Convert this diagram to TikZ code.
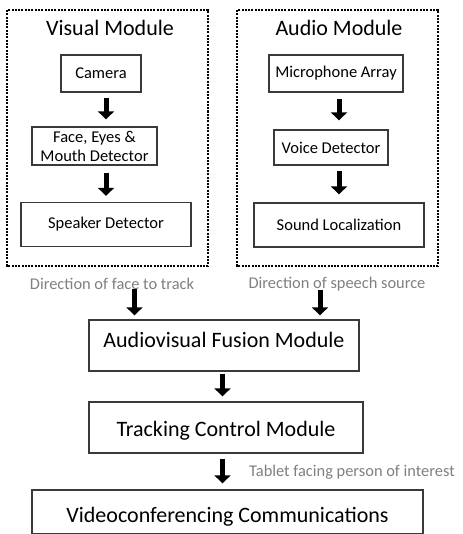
\documentclass[tikz,border=0pt]{standalone}
\usepackage{fontspec}
\setmainfont{Carlito}
\usetikzlibrary{arrows.meta}
\definecolor{edge}{HTML}{3A3A3A}
\definecolor{note}{HTML}{808080}
\begin{document}
\begin{tikzpicture}[x=1pt,y=-1pt,
  box/.style={draw=edge,line width=1.3pt,inner sep=0pt,align=center,
    font=\fontsize{16.5}{19}\selectfont},
  bigbox/.style={box,font=\fontsize{22}{26}\selectfont},
  title/.style={inner sep=0pt,font=\fontsize{22}{26}\selectfont},
  notetext/.style={inner sep=0pt,text=note,font=\fontsize{16.4}{19}\selectfont},
  module/.style={draw=black,line width=2pt,dash pattern=on 2pt off 1.3pt},
  blk/.style={line width=5pt,-{Triangle[width=16pt,length=8pt]}}]
\useasboundingbox (0,0) rectangle (462,534);
\fill[white] (0,0) rectangle (462,534);

% module frames
\draw[module] (7,10) rectangle (208,266);
\draw[module] (237,10) rectangle (438,266);

% visual column
\node[title] (vt) at (110,28) {Visual Module};
\node[box,minimum width=80pt,minimum height=37pt] (cam) at (101,73.5) {Camera};
\node[box,minimum width=125pt,minimum height=38pt] (face) at (94.5,146) {Face, Eyes \&\\Mouth Detector};
\node[box,minimum width=170pt,minimum height=44pt] (spk) at (106,224.5) {Speaker Detector};

% audio column
\node[title] (at) at (339,28) {Audio Module};
\node[box,minimum width=134pt,minimum height=37pt] (mic) at (336,73.5) {Microphone Array};
\node[box,minimum width=114pt,minimum height=35pt] (voice) at (331,147.5) {Voice Detector};
\node[box,minimum width=170pt,minimum height=44pt] (snd) at (339,225) {Sound Localization};

% notes between stages
\node[notetext] (dface) at (112,284) {Direction of face to track};
\node[notetext] (dspeech) at (337,284) {Direction of speech source};
\node[notetext] (tablet) at (352,472) {Tablet facing person of interest};

% fusion and downstream stages
\node[bigbox,minimum width=270pt,minimum height=51pt,text height=16pt,text depth=13pt] (fus) at (224,345.5) {Audiovisual Fusion Module};
\node[bigbox,minimum width=274pt,minimum height=51pt,text height=17pt,text depth=0pt] (trk) at (226,427.5) {Tracking Control Module};
\node[bigbox,minimum width=391pt,minimum height=44pt,text height=20pt,text depth=0pt] (vid) at (227.5,512) {Videoconferencing Communications};

% arrow columns
\coordinate (vx) at (106,0);
\coordinate (ax) at (339,0);
\coordinate (lx) at (134.5,0);
\coordinate (rx) at (320,0);
\coordinate (cx) at (222.5,0);

\draw[blk,shorten <=5pt,shorten >=7pt] (cam.south -| vx) -- (face.north -| vx);
\draw[blk,shorten <=7pt,shorten >=6pt] (face.south -| vx) -- (spk.north -| vx);
\draw[blk,shorten <=6pt,shorten >=9pt] (mic.south -| ax) -- (voice.north -| ax);
\draw[blk,shorten <=5pt,shorten >=8pt] (voice.south -| ax) -- (snd.north -| ax);
\draw[blk,shorten <=-1pt,shorten >=4pt] (dface.south -| lx) -- (fus.north -| lx);
\draw[blk,shorten <=-1pt,shorten >=4pt] (dspeech.south -| rx) -- (fus.north -| rx);
\draw[blk,shorten <=2pt,shorten >=5pt] (fus.south -| cx) -- (trk.north -| cx);
\draw[blk,shorten <=5pt,shorten >=6pt] (trk.south -| cx) -- (vid.north -| cx);
\end{tikzpicture}
\end{document}
